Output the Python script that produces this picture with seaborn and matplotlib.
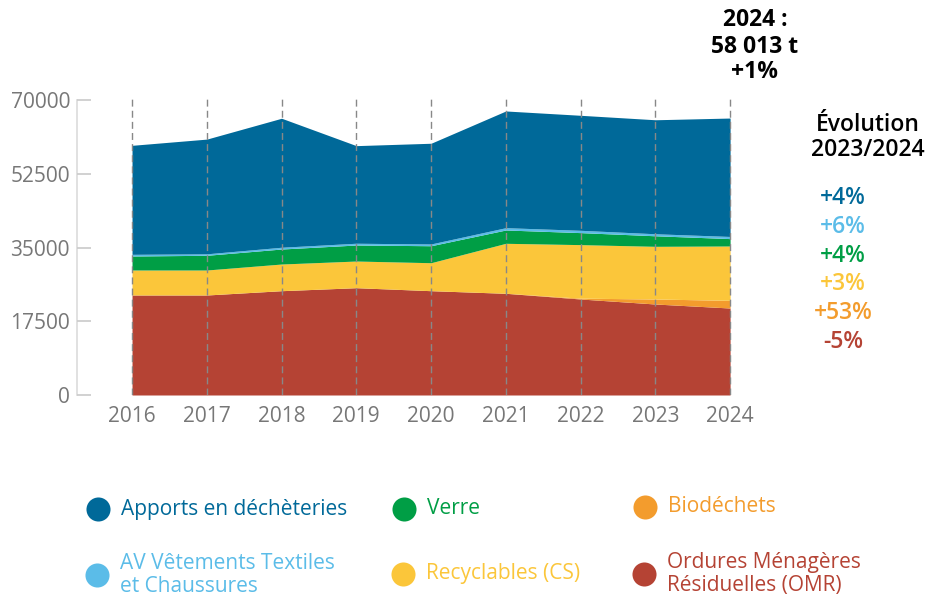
import matplotlib
matplotlib.use("Agg")
import matplotlib.pyplot as plt
import seaborn as sns

# Data (tonnes)
years = [2016, 2017, 2018, 2019, 2020, 2021, 2022, 2023, 2024]
omr = [23730, 23730, 24750, 25460, 24750, 24130, 22780, 21590, 20640]
biodechets = [0, 0, 0, 0, 0, 0, 200, 1190, 1820]
recyclables = [5930, 5930, 6330, 6330, 6640, 11865, 12700, 12500, 12900]
verre = [3320, 3490, 3560, 3800, 4030, 3160, 2850, 2500, 1750]
av_textiles = [400, 350, 420, 420, 420, 550, 550, 480, 510]
apports = [25865, 27220, 30610, 23160, 23895, 27690, 27290, 27050, 28100]

colors = ["#b54334", "#f39c2d", "#fbc63a", "#009e45", "#5bbce8", "#006999"]

evol_labels = ["+4%", "+6%", "+4%", "+3%", "+53%", "-5%"]
evol_colors = ["#006999", "#5bbce8", "#009e45", "#fbc63a", "#f39c2d", "#b54334"]

y_ticks = [0, 17500, 35000, 52500, 70000]

sns.set_theme(style="white")
plt.rcParams["font.family"] = ["Open Sans", "DejaVu Sans"]

W, H = 930, 603
fig = plt.figure(figsize=(W / 100, H / 100), dpi=100)
ax = fig.add_axes([77 / W, (H - 395) / H, 683 / W, 300 / H])

ax.stackplot(years, omr, biodechets, recyclables, verre, av_textiles, apports,
             colors=colors, linewidth=0)

ax.set_xlim(2015.264, 2024.4)
ax.set_ylim(0, 70000 * 300 / 295)
ax.set_xticks(years)
ax.set_yticks(y_ticks)
ax.set_yticklabels([str(t) for t in y_ticks])

ax.set_axisbelow(False)
ax.grid(axis="x", color="#888888", linestyle=(0, (5, 3)), linewidth=1)
ax.grid(axis="y", visible=False)

for s in ["top", "right", "bottom"]:
    ax.spines[s].set_visible(False)
ax.spines["left"].set_color("#dddddd")
ax.spines["left"].set_bounds(0, 70000)

ax.tick_params(axis="y", direction="in", length=10, color="#cccccc",
               labelcolor="#777777", labelsize=15, pad=5, left=True)
ax.tick_params(axis="x", length=0, labelcolor="#777777", labelsize=15, pad=8)

# Annotations
def px(x, y):
    return x / W, 1 - y / H

fig.text(*px(755, 20), "2024 :", ha="center", va="center", fontsize=16.5, fontweight="bold", color="black")
fig.text(*px(755, 47), "58 013 t", ha="center", va="center", fontsize=16.5, fontweight="bold", color="black")
fig.text(*px(755, 72), "+1%", ha="center", va="center", fontsize=16.5, fontweight="bold", color="black")

fig.text(*px(868, 125), "Évolution", ha="center", va="center", fontsize=16.5, fontweight="semibold", color="black")
fig.text(*px(868, 150), "2023/2024", ha="center", va="center", fontsize=16.5, fontweight="semibold", color="black")

for i, (lab, c) in enumerate(zip(evol_labels, evol_colors)):
    fig.text(*px(843, 198 + i * 28.8), lab, ha="center", va="center", fontsize=16.5,
             fontweight="semibold", color=c)

# Legend drawn on an overlay in pixel coordinates
lax = fig.add_axes([0, 0, 1, 1])
lax.set_xlim(0, W)
lax.set_ylim(H, 0)
lax.axis("off")
legend_items = [
    ("Apports en déchèteries", "#006999", 98, 509),
    ("Verre", "#009e45", 404, 509),
    ("Biodéchets", "#f39c2d", 645, 507),
    ("AV Vêtements Textiles\net Chaussures", "#5bbce8", 97, 575),
    ("Recyclables (CS)", "#fbc63a", 403, 574),
    ("Ordures Ménagères\nRésiduelles (OMR)", "#b54334", 644, 574),
]
for lab, c, x, y in legend_items:
    lax.scatter([x], [y], s=300, color=c, linewidths=0)
    lax.text(x + 23, y, lab, ha="left", va="center", fontsize=15, color=c,
             linespacing=1.15)

fig.savefig("out.png", dpi=100)
